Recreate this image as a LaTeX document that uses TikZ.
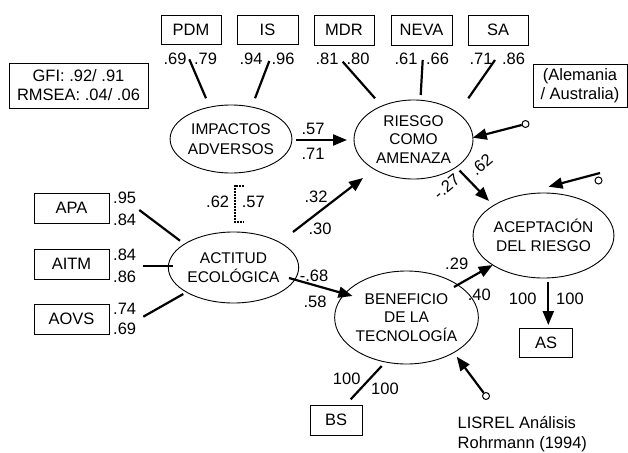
\documentclass[tikz,border=0pt]{standalone}
\usepackage{fontspec}
\setmainfont{Liberation Sans}
\usetikzlibrary{arrows.meta,shapes.geometric}
\begin{document}
\begin{tikzpicture}[x=1pt,y=-1pt,
 obsbox/.style={draw, line width=0.9pt, inner sep=0pt, align=center, font=\fontsize{16.5}{19}\selectfont},
 lat/.style={draw, ellipse, line width=0.9pt, inner sep=0pt, align=center, font=\fontsize{15.5}{18.5}\selectfont},
 lbl/.style={inner sep=0pt, font=\fontsize{16.5}{18}\selectfont},
 patharr/.style={line width=2.2pt, -{Triangle[length=14pt,width=11pt]}},
 load/.style={line width=2.2pt},
 res/.style={draw, circle, line width=1pt, minimum size=7pt, inner sep=0pt},
]
\useasboundingbox (0,0) rectangle (628,452);

% observed boxes
\node[obsbox, minimum width=60pt, minimum height=29pt] (pdm) at (191,29.5) {PDM};
\node[obsbox, minimum width=61pt, minimum height=29pt] (is) at (267.5,29.5) {IS};
\node[obsbox, minimum width=60pt, minimum height=30pt] (mdr) at (344,30) {MDR};
\node[obsbox, minimum width=61pt, minimum height=30pt] (neva) at (421.5,30) {NEVA};
\node[obsbox, minimum width=60pt, minimum height=30pt] (sa) at (498,30) {SA};
\node[obsbox, minimum width=139pt, minimum height=45pt] (gfi) at (78.5,85.5) {GFI: .92/ .91\\RMSEA: .04/ .06};
\node[obsbox, minimum width=94pt, minimum height=43pt] (ale) at (580,85.5) {(Alemania\\/ Australia)};
\node[obsbox, minimum width=75pt, minimum height=30pt] (apa) at (71.5,208) {APA};
\node[obsbox, minimum width=75pt, minimum height=30pt] (aitm) at (71.5,264) {AITM};
\node[obsbox, minimum width=75pt, minimum height=30pt] (aovs) at (71.5,319) {AOVS};
\node[obsbox, minimum width=53pt, minimum height=29pt] (as) at (546,342.5) {AS};
\node[obsbox, minimum width=52pt, minimum height=30pt] (bs) at (336,420) {BS};

% latent ellipses
\node[lat, minimum width=112pt, minimum height=68pt, font=\fontsize{15.5}{20.5}\selectfont] (imp) at (231,139) {IMPACTOS\\ADVERSOS};
\node[lat, minimum width=119pt, minimum height=79pt] (rie) at (413.5,139.5) {RIESGO\\COMO\\AMENAZA};
\node[lat, minimum width=119pt, minimum height=71pt] (act) at (233.5,267.5) {ACTITUD\\ECOLÓGICA};
\node[lat, minimum width=119pt, minimum height=85pt] (acp) at (543.5,235.5) {ACEPTACIÓN\\DEL RIESGO};
\node[lat, minimum width=119pt, minimum height=93pt] (ben) at (406.5,317.5) {BENEFICIO\\DE LA\\TECNOLOGÍA};

% loading lines (top)
\coordinate (pdm1) at (189.3,59.3); \coordinate (pdm2) at (206,98.3);
\coordinate (is1) at (269.3,61); \coordinate (is2) at (255,98.3);
\coordinate (mdr1) at (342.7,61.7); \coordinate (mdr2) at (375,98.3);
\coordinate (neva1) at (422.7,60); \coordinate (neva2) at (420.7,95);
\coordinate (sa1) at (495,60); \coordinate (sa2) at (468.3,98.3);
\draw[load] (pdm1) -- (pdm2);
\draw[load] (is1) -- (is2);
\draw[load] (mdr1) -- (mdr2);
\draw[load] (neva1) -- (neva2);
\draw[load] (sa1) -- (sa2);
\node[lbl] (l69) at (175,59) {.69};
\node[lbl] (l79) at (205.5,59) {.79};
\node[lbl] (l94) at (251,59) {.94};
\node[lbl] (l96) at (283,59) {.96};
\node[lbl] (l81) at (327,59) {.81};
\node[lbl] (l80) at (358,59) {.80};
\node[lbl] (l61) at (406,59) {.61};
\node[lbl] (l66) at (437.5,59) {.66};
\node[lbl] (l71) at (481,59) {.71};
\node[lbl] (l86) at (513.5,59) {.86};

% loading lines (left)
\coordinate (apa1) at (139.3,210); \coordinate (apa2) at (180,240.7);
\coordinate (aitm1) at (143.3,266); \coordinate (aitm2) at (172.7,266);
\coordinate (aovs1) at (143.3,316.7); \coordinate (aovs2) at (183.3,294);
\draw[load] (apa1) -- (apa2);
\draw[load] (aitm1) -- (aitm2);
\draw[load] (aovs1) -- (aovs2);
\node[lbl] (l95) at (124.7,198) {.95};
\node[lbl] (l84a) at (124.7,220) {.84};
\node[lbl] (l84b) at (124.7,254.5) {.84};
\node[lbl] (l86b) at (124.7,276.5) {.86};
\node[lbl] (l74) at (124.7,309) {.74};
\node[lbl] (l69b) at (124.7,329) {.69};

% correlation bracket
\coordinate (br1) at (244,185.5); \coordinate (br2) at (234.5,185.5);
\coordinate (br3) at (234.5,221.5); \coordinate (br4) at (244,221.5);
\draw[line width=2pt, dash pattern=on 1.6pt off 1.4pt] (br1) -- (br2) -- (br3) -- (br4);
\node[lbl] (c62) at (217.7,201.7) {.62};
\node[lbl] (c57) at (253.3,201.7) {.57};

% structural paths
\coordinate (p1s) at (296,140); \coordinate (p1e) at (347,140);
\draw[patharr] (p1s) -- (p1e);
\node[lbl] (p57) at (313,129) {.57};
\node[lbl] (p71) at (313,154) {.71};

\coordinate (p2s) at (293,232); \coordinate (p2e) at (363,178);
\draw[patharr] (p2s) -- (p2e);
\node[lbl] (p32) at (316,197) {.32};
\node[lbl] (p30) at (320,229) {.30};

\coordinate (p3s) at (459.5,170.5); \coordinate (p3e) at (489,201);
\draw[patharr] (p3s) -- (p3e);
\node[lbl, rotate=40] (p27) at (446.5,186.5) {-.27};
\node[lbl, rotate=40] (p62) at (481.5,165) {.62};

\coordinate (p4s) at (289,278); \coordinate (p4e) at (352.5,296);
\draw[patharr] (p4s) -- (p4e);
\node[lbl] (p68) at (314,276) {-.68};
\node[lbl] (p58) at (315,301.7) {.58};

\coordinate (p5s) at (454,287); \coordinate (p5e) at (492.7,265);
\draw[patharr] (p5s) -- (p5e);
\node[lbl] (p29) at (456.7,264) {.29};
\node[lbl] (p40) at (479.3,295) {.40};

\coordinate (p6s) at (548.3,281.7); \coordinate (p6e) at (548.3,325);
\draw[patharr] (p6s) -- (p6e);
\node[lbl] (p100a) at (522.7,299) {100};
\node[lbl] (p100b) at (570,299) {100};

\coordinate (b1) at (381.7,366); \coordinate (b2) at (350.7,399.3);
\draw[load] (b1) -- (b2);
\node[lbl] (b100a) at (346.7,379.3) {100};
\node[lbl] (b100b) at (385,389.3) {100};

% residuals
\node[res] (r1) at (525.5,124) {};
\coordinate (r1e) at (472.7,137.7);
\draw[patharr] (r1) -- (r1e);

\node[res] (r2) at (598.5,180.5) {};
\coordinate (r2s) at (600,173);
\coordinate (r2e) at (548.5,186.7);
\draw[patharr] (r2s) -- (r2e);

\node[res] (r3) at (486,396) {};
\coordinate (r3e) at (456.7,356.7);
\draw[patharr] (r3) -- (r3e);

% source note
\node[lbl, anchor=west, align=left, font=\fontsize{16.5}{20}\selectfont] (src) at (457.5,434) {LISREL Análisis\\Rohrmann (1994)};
\end{tikzpicture}
\end{document}
